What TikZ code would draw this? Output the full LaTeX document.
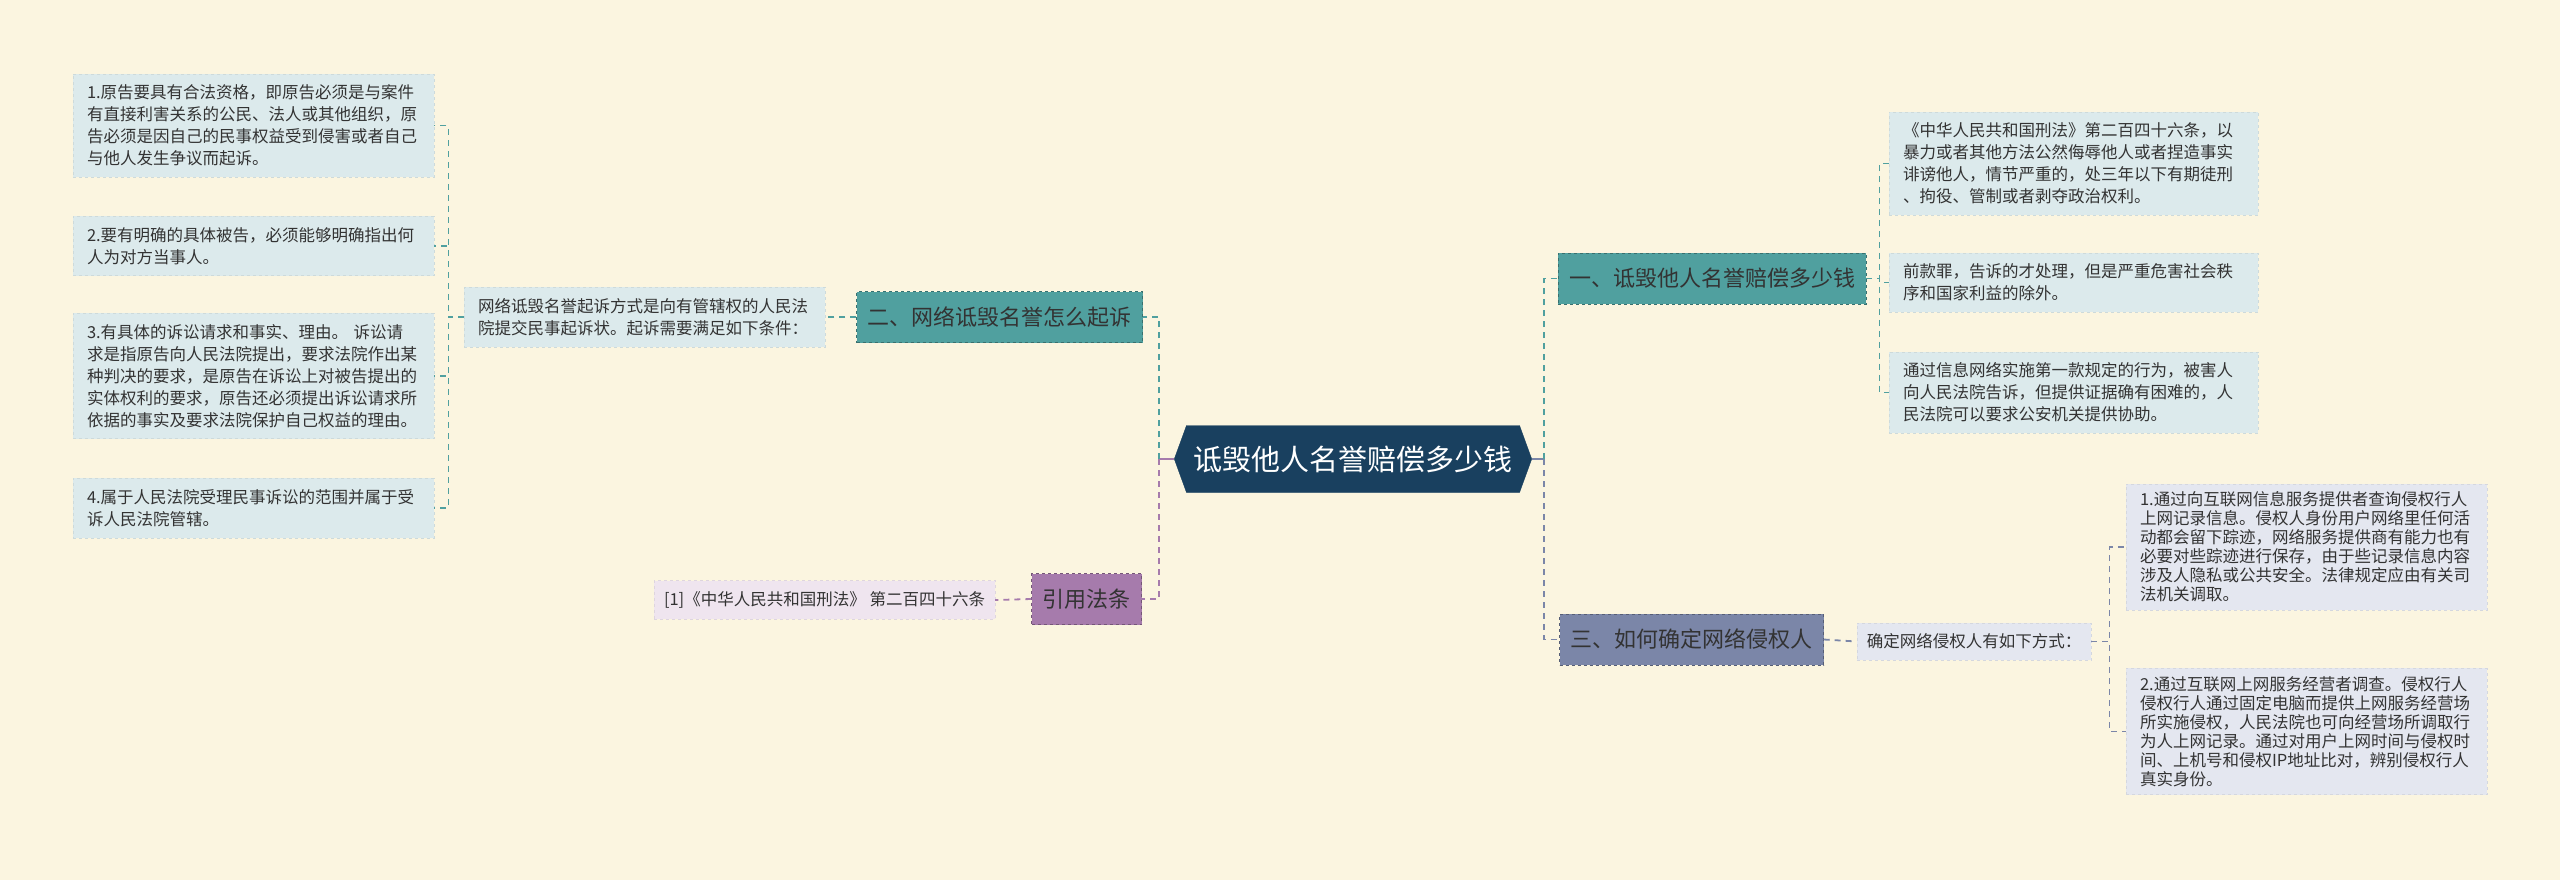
\documentclass[tikz,border=0pt]{standalone}
\usepackage{fontspec}
\newfontfamily\cjk{Noto Sans CJK SC}
\usetikzlibrary{shapes.symbols}
\definecolor{bgcol}{HTML}{FBF5E0}
\definecolor{rootcol}{HTML}{19405F}
\definecolor{tealcol}{HTML}{50A09F}
\definecolor{purpcol}{HTML}{A67BAC}
\definecolor{slatecol}{HTML}{7B86A8}
\definecolor{leafblue}{HTML}{DCEAEC}
\definecolor{leafgray}{HTML}{E4E7F0}
\definecolor{leafpurp}{HTML}{EFE5EF}
\definecolor{txtcol}{HTML}{333333}

\begin{document}
\begin{tikzpicture}[x=1pt, y=-1pt, font=\cjk,
  root/.style={signal, signal to=east and west, signal pointer angle=140, fill=rootcol, draw=rootcol, text=white, font=\cjk\fontsize{29}{29}\selectfont, minimum height=67pt, inner xsep=7pt},
  branch/.style={fill=#1, draw=#1!70!black, dashed, text=black!80, font=\cjk\fontsize{22}{22}\selectfont, minimum height=51pt, inner xsep=11pt},
  note/.style={fill=#1, draw=#1!93!black, dashed, text=txtcol, inner xsep=10pt, inner ysep=11pt, font=\cjk\fontsize{16.5}{22}\selectfont},
  leaf/.style={note=#1, align=left, text width=333pt, inner xsep=14pt},
  conn/.style={draw=#1, line width=1.8pt, dash pattern=on 6pt off 5pt},
  thin conn/.style={draw=#1, line width=1.3pt, dash pattern=on 6pt off 5pt}]
\fill[bgcol] (0,0) rectangle (2560,880);
\useasboundingbox (0,0) rectangle (2560,880);
% root and branches
\node[root] (root) at (1353,459) {诋毁他人名誉赔偿多少钱};
\node[branch=tealcol] (b1) at (1712,278.5) {一、诋毁他人名誉赔偿多少钱};
\node[branch=tealcol] (b2) at (999.5,317) {二、网络诋毁名誉怎么起诉};
\node[branch=purpcol] (b4) at (1086.5,599) {引用法条};
\node[branch=slatecol] (b3) at (1691.5,639.5) {三、如何确定网络侵权人};
% branch one
\node[leaf=leafblue, text width=341pt] (la) at (2073.5,163.5) {《中华人民共和国刑法》第二百四十六条，以\\暴力或者其他方法公然侮辱他人或者捏造事实\\诽谤他人，情节严重的，处三年以下有期徒刑\\、拘役、管制或者剥夺政治权利。};
\node[leaf=leafblue, text width=341pt] (lb) at (2073.5,282.5) {前款罪，告诉的才处理，但是严重危害社会秩\\序和国家利益的除外。};
\node[leaf=leafblue, text width=341pt] (lc) at (2073.5,392.5) {通过信息网络实施第一款规定的行为，被害人\\向人民法院告诉，但提供证据确有困难的，人\\民法院可以要求公安机关提供协助。};
% branch two
\node[leaf=leafblue] (desc) at (644.5,317) {网络诋毁名誉起诉方式是向有管辖权的人民法\\院提交民事起诉状。起诉需要满足如下条件：};
\node[leaf=leafblue] (l1) at (253.5,125.5) {1.原告要具有合法资格，即原告必须是与案件\\有直接利害关系的公民、法人或其他组织，原\\告必须是因自己的民事权益受到侵害或者自己\\与他人发生争议而起诉。};
\node[leaf=leafblue] (l2) at (253.5,246) {2.要有明确的具体被告，必须能够明确指出何\\人为对方当事人。};
\node[leaf=leafblue] (l3) at (253.5,376) {3.有具体的诉讼请求和事实、理由。 诉讼请\\求是指原告向人民法院提出，要求法院作出某\\种判决的要求，是原告在诉讼上对被告提出的\\实体权利的要求，原告还必须提出诉讼请求所\\依据的事实及要求法院保护自己权益的理由。};
\node[leaf=leafblue] (l4) at (253.5,508) {4.属于人民法院受理民事诉讼的范围并属于受\\诉人民法院管辖。};
% branch three
\node[note=leafgray] (how) at (1974,641.5) {确定网络侵权人有如下方式：};
\node[leaf=leafgray, inner ysep=8pt, font=\cjk\fontsize{16.5}{19}\selectfont] (m1) at (2306.5,547) {1.通过向互联网信息服务提供者查询侵权行人\\上网记录信息。侵权人身份用户网络里任何活\\动都会留下踪迹，网络服务提供商有能力也有\\必要对些踪迹进行保存，由于些记录信息内容\\涉及人隐私或公共安全。法律规定应由有关司\\法机关调取。};
\node[leaf=leafgray, inner ysep=8pt, font=\cjk\fontsize{16.5}{19}\selectfont] (m2) at (2306.5,731.5) {2.通过互联网上网服务经营者调查。侵权行人\\侵权行人通过固定电脑而提供上网服务经营场\\所实施侵权，人民法院也可向经营场所调取行\\为人上网记录。通过对用户上网时间与侵权时\\间、上机号和侵权IP地址比对，辨别侵权行人\\真实身份。};
% citation
\node[note=leafpurp] (cite) at (824.5,600) {[1]《中华人民共和国刑法》 第二百四十六条};
% connectors
\coordinate (lj) at (1159,459);
\coordinate (rj) at (1544,459);
\draw[purpcol, line width=1.8pt] (root.west) -- (lj);
\draw[slatecol, line width=1.8pt] (root.east) -- (rj);
\draw[conn=tealcol] (lj) |- (b2.east);
\draw[conn=purpcol] (lj) |- (b4.east);
\draw[conn=tealcol] (rj) |- (b1.west);
\draw[conn=slatecol] (rj) |- (b3.west);
\foreach \c in {la,lb,lc}
  \draw[thin conn=tealcol] (b1.east) -| ([xshift=-9pt]\c.west) -- (\c.west);
\draw[conn=tealcol] (b2.west) -- (desc.east);
\foreach \c in {l1,l2,l3,l4}
  \draw[thin conn=tealcol] (desc.west) -| ([xshift=14pt]\c.east) -- (\c.east);
\draw[conn=purpcol] (b4.west) -- (cite.east);
\draw[conn=slatecol] (b3.east) -- (how.west);
\foreach \c in {m1,m2}
  \draw[thin conn=slatecol] (how.east) -| ([xshift=-16pt]\c.west) -- (\c.west);
\end{tikzpicture}
\end{document}
